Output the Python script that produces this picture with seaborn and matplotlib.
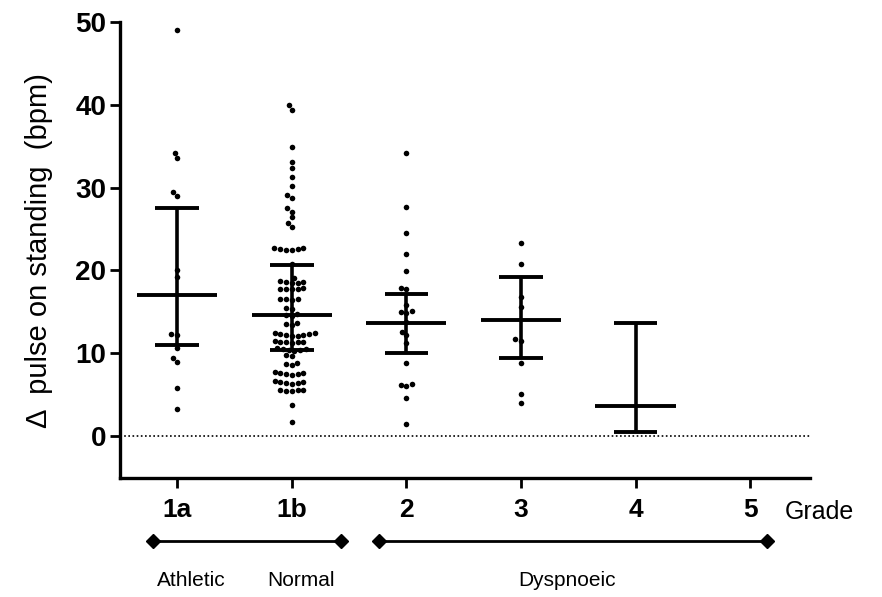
import numpy as np
import pandas as pd
import matplotlib
matplotlib.use("Agg")
import matplotlib.pyplot as plt
import seaborn as sns

grades = ["1a", "1b", "2", "3", "4", "5"]

g1a = [49.0, 34.2, 33.6, 29.5, 29.0, 20.0, 19.2, 12.3, 12.2, 10.6, 9.4, 8.9, 5.8, 3.2]
g1b = [40.0, 39.4, 34.9, 33.1, 32.4, 31.3, 30.2, 29.1, 28.7, 27.5, 27.1, 26.4, 25.7, 25.2,
       22.7, 22.7, 22.6, 22.6, 22.5, 22.5,
       20.8, 19.1,
       18.7, 18.6, 18.6, 18.5, 18.5,
       17.9, 17.8, 17.8, 17.7, 17.7,
       16.6, 16.5, 16.5, 16.4,
       15.5, 15.4, 14.7, 14.6, 14.5,
       13.6, 13.5, 13.4,
       12.4, 12.4, 12.3, 12.3, 12.2, 12.2, 12.1, 12.1,
       11.5, 11.4, 11.4, 11.3, 11.3, 11.2,
       10.6, 10.5, 10.5, 10.4, 10.4, 10.3,
       9.8, 9.7,
       8.8, 8.7, 8.6,
       7.7, 7.6, 7.6, 7.5, 7.5, 7.4,
       6.6, 6.5, 6.5, 6.4, 6.4, 6.3,
       5.6, 5.5, 5.5, 5.4, 5.4,
       3.7, 1.7]
g2 = [34.2, 27.7, 24.5, 22.0, 19.9, 17.9, 17.8, 15.8, 15.1, 15.0, 14.9, 13.8,
      12.6, 12.2, 11.2, 8.8, 6.3, 6.1, 6.0, 4.6, 1.5]
g3 = [23.3, 20.8, 16.8, 15.6, 11.7, 11.5, 8.8, 5.1, 4.0]

medians = [17.0, 14.6, 13.6, 14.0, 3.6]
q1 = [11.0, 10.4, 10.0, 9.4, 0.5]
q3 = [27.5, 20.7, 17.2, 19.2, 13.6]

yticks = [0, 10, 20, 30, 40, 50]

groups = {"1a": g1a, "1b": g1b, "2": g2, "3": g3}
df = pd.DataFrame([(k, v) for k, vals in groups.items() for v in vals],
                  columns=["grade", "value"])

sns.set_style("ticks", {"axes.edgecolor": "black", "text.color": "black",
                        "xtick.color": "black", "ytick.color": "black",
                        "axes.labelcolor": "black"})
plt.rcParams['font.family'] = ['Liberation Sans', 'DejaVu Sans']

fig = plt.figure(figsize=(8.82, 5.97), dpi=100)
ax = fig.add_axes([0.136, 0.199, 0.782, 0.764])

ax.axhline(0, color="black", ls=(0, (1, 1.5)), lw=1.2, zorder=1)

sns.swarmplot(data=df, x="grade", y="value", order=grades, color="black",
              size=4.0, ax=ax, zorder=2)

for i, (m, lo, hi) in enumerate(zip(medians, q1, q3)):
    ax.vlines(i, lo, hi, color="black", lw=2.6, zorder=3)
    ax.hlines(m, i - 0.35, i + 0.35, color="black", lw=2.8, zorder=3)
    ax.hlines([lo, hi], i - 0.19, i + 0.19, color="black", lw=2.8, zorder=3)

ax.set_xlim(-0.5, 5.52)
ax.set_ylim(-5.1, 50)
ax.set_yticks(yticks)
ax.set_yticklabels([str(t) for t in yticks], fontsize=20, fontweight="bold")
ax.set_xticks(range(len(grades)))
ax.set_xticklabels(grades, fontsize=19, fontweight="bold")
ax.set_xlabel("")
ax.set_ylabel("Δ  pulse on standing  (bpm)", fontsize=21, labelpad=16)

for s in ["top", "right"]:
    ax.spines[s].set_visible(False)
for s in ["left", "bottom"]:
    ax.spines[s].set_linewidth(2.4)
ax.tick_params(axis="both", width=2, length=7, color="black")
ax.tick_params(axis="x", pad=7)
ax.tick_params(axis="y", pad=3)

tr = ax.get_xaxis_transform()
ax.text(5.3, -0.075, "Grade", transform=tr, ha="left", va="center", fontsize=18)
for x0, x1 in [(-0.21, 1.43), (1.76, 5.15)]:
    ax.plot([x0, x1], [-0.138, -0.138], transform=tr, color="black", lw=2,
            marker="D", markersize=7, clip_on=False)
ax.text(0.12, -0.224, "Athletic", transform=tr, ha="center", va="center", fontsize=15)
ax.text(1.08, -0.224, "Normal", transform=tr, ha="center", va="center", fontsize=15)
ax.text(3.40, -0.224, "Dyspnoeic", transform=tr, ha="center", va="center", fontsize=15)

fig.savefig("out.png", dpi=100)
